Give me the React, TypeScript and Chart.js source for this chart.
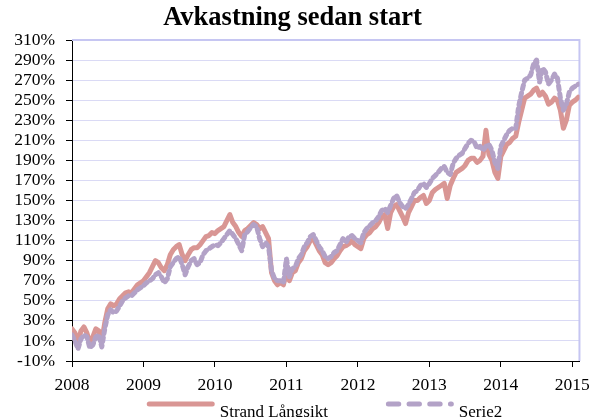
import React, { useEffect, useRef } from 'react';
import { Chart, registerables } from 'chart.js';

Chart.register(...registerables);

// ---------- data ----------
const TITLE = 'Avkastning sedan start';
const SERIES_NAMES = ['Strand Långsikt', 'Serie2'];
const START_YEAR = 2008;
const POINTS_PER_YEAR = 24; // half-month samples
const X_MIN = 2008;
const X_MAX = 2015.1;
const YEAR_TICKS = [2008, 2009, 2010, 2011, 2012, 2013, 2014, 2015];
const Y_TICKS = [-10, 10, 30, 50, 70, 90, 110, 130, 150, 170, 190, 210, 230, 250, 270, 290, 310];

const strand2008 = [22, 18, 8, 20, 24, 18, 8, 14, 22, 20, 10, 28, 42, 47, 45, 47, 52, 55, 58, 59, 58, 62, 66, 68];
const strand2009 = [70, 74, 78, 84, 90, 88, 83, 80, 86, 96, 101, 104, 106, 96, 90, 96, 101, 103, 103, 106, 110, 114, 115, 118];
const strand2010 = [117, 120, 122, 124, 130, 136, 128, 124, 118, 114, 120, 122, 125, 128, 126, 122, 124, 118, 112, 78, 70, 66, 68, 66];
const strand2011 = [78, 70, 78, 80, 88, 92, 100, 104, 110, 112, 106, 100, 96, 88, 86, 88, 92, 95, 100, 104, 105, 107, 110, 106];
const strand2012 = [104, 102, 112, 116, 118, 122, 124, 128, 134, 136, 122, 138, 144, 146, 140, 134, 127, 138, 144, 150, 150, 153, 155, 147];
const strand2013 = [150, 158, 161, 163, 165, 167, 152, 165, 172, 178, 180, 182, 185, 190, 192, 192, 188, 190, 194, 220, 196, 190, 178, 172];
const strand2014 = [194, 200, 206, 208, 212, 214, 228, 240, 252, 254, 256, 260, 262, 255, 258, 254, 246, 248, 252, 250, 240, 222, 230, 245];
const strand2015 = [248, 250, 253];

const serie2_2008 = [16, 10, 2, 12, 16, 14, 3, 6, 14, 16, 4, 22, 36, 41, 38, 40, 45, 50, 53, 55, 55, 58, 61, 63];
const serie2_2009 = [65, 68, 70, 72, 76, 78, 74, 68, 72, 84, 88, 92, 94, 86, 76, 84, 90, 92, 86, 88, 96, 100, 102, 104];
const serie2_2010 = [106, 105, 108, 112, 116, 120, 116, 112, 106, 100, 116, 119, 123, 126, 124, 112, 104, 108, 104, 80, 72, 70, 70, 68];
const serie2_2011 = [92, 74, 82, 84, 92, 96, 104, 108, 114, 116, 110, 104, 100, 94, 92, 94, 98, 100, 106, 112, 108, 114, 115, 112];
const serie2_2012 = [110, 108, 118, 122, 125, 128, 130, 134, 140, 142, 138, 145, 152, 155, 148, 144, 142, 146, 152, 158, 160, 165, 167, 163];
const serie2_2013 = [167, 172, 175, 178, 182, 184, 178, 176, 187, 192, 195, 197, 202, 207, 210, 209, 202, 204, 200, 204, 206, 200, 188, 182];
const serie2_2014 = [204, 210, 216, 220, 222, 222, 244, 258, 270, 272, 275, 286, 290, 268, 282, 278, 266, 270, 276, 272, 252, 240, 246, 258];
const serie2_2015 = [262, 264, 266];

const strandValues = [
  ...strand2008, ...strand2009, ...strand2010, ...strand2011,
  ...strand2012, ...strand2013, ...strand2014, ...strand2015,
];
const serie2Values = [
  ...serie2_2008, ...serie2_2009, ...serie2_2010, ...serie2_2011,
  ...serie2_2012, ...serie2_2013, ...serie2_2014, ...serie2_2015,
];
const dates = strandValues.map((_, i) => START_YEAR + i / POINTS_PER_YEAR);

// ---------- styles ----------
const FONT = '"Liberation Serif", "Times New Roman", serif';
const RED = '#d99694';
const PURPLE = '#b3a2c7';
const GRID = '#dadaf5';
const FRAME = '#c6c6f2';
const LEGEND_DASH: number[][] = [[], [10.4, 10.3]];

const framePlugin = {
  id: 'plotFrame',
  beforeDatasetsDraw(chart: any) {
    const { ctx, chartArea } = chart;
    ctx.save();
    ctx.strokeStyle = FRAME;
    ctx.lineWidth = 2;
    ctx.beginPath();
    ctx.moveTo(chartArea.left, chartArea.top);
    ctx.lineTo(chartArea.right, chartArea.top);
    ctx.lineTo(chartArea.right, chartArea.bottom);
    ctx.stroke();
    ctx.restore();
  },
};

const legendPlugin = {
  id: 'bottomLegend',
  afterDraw(chart: any) {
    const ctx = chart.ctx;
    const CAP = 2.5;
    const SAMPLE = 63;
    const TEXT_GAP = 5;
    const ITEM_GAP = 58;
    const LINE_Y = 404;
    const TEXT_Y = 416.5;
    const CENTER = 324.5;
    ctx.save();
    ctx.font = `17px ${FONT}`;
    const items = SERIES_NAMES.map((label, i) => ({
      label,
      color: chart.data.datasets[i].borderColor,
      dash: LEGEND_DASH[i],
    }));
    const widths = items.map((it) => CAP * 2 + SAMPLE + TEXT_GAP + ctx.measureText(it.label).width);
    const total = widths.reduce((a, b) => a + b, 0) + ITEM_GAP * (items.length - 1);
    let x = CENTER - total / 2;
    items.forEach((it, i) => {
      ctx.beginPath();
      ctx.setLineDash(it.dash);
      ctx.lineCap = 'round';
      ctx.lineWidth = 5;
      ctx.strokeStyle = it.color;
      ctx.moveTo(x + CAP, LINE_Y);
      ctx.lineTo(x + CAP + SAMPLE, LINE_Y);
      ctx.stroke();
      ctx.setLineDash([]);
      ctx.fillStyle = '#000';
      ctx.textAlign = 'left';
      ctx.textBaseline = 'alphabetic';
      ctx.fillText(it.label, x + CAP * 2 + SAMPLE + TEXT_GAP, TEXT_Y);
      x += widths[i] + ITEM_GAP;
    });
    ctx.restore();
  },
};

export default function App() {
  const canvasRef = useRef<HTMLCanvasElement | null>(null);

  useEffect(() => {
    if (!canvasRef.current) return;
    const tickFont = { family: FONT, size: 17.5 };
    const chart = new Chart(canvasRef.current, {
      type: 'line',
      data: {
        datasets: [
          {
            label: SERIES_NAMES[0],
            data: dates.map((x, i) => ({ x, y: strandValues[i] })),
            borderColor: RED,
            backgroundColor: RED,
            borderWidth: 5,
            borderCapStyle: 'round',
            borderJoinStyle: 'round',
            pointRadius: 0,
            tension: 0,
            order: 1,
          },
          {
            label: SERIES_NAMES[1],
            data: dates.map((x, i) => ({ x, y: serie2Values[i] })),
            borderColor: PURPLE,
            backgroundColor: PURPLE,
            borderWidth: 5,
            borderDash: [4, 4],
            borderCapStyle: 'round',
            borderJoinStyle: 'round',
            pointRadius: 0,
            tension: 0,
            order: 0,
          },
        ],
      },
      options: {
        responsive: false,
        animation: false,
        devicePixelRatio: 1,
        layout: { padding: { top: 0, right: 13, bottom: 22, left: 0 } },
        plugins: {
          legend: { display: false },
          tooltip: { enabled: false },
          title: {
            display: true,
            text: TITLE,
            color: '#000',
            font: { family: FONT, size: 26.5, weight: 'bold' },
            padding: { top: 2, bottom: 6.2 },
          },
        },
        scales: {
          x: {
            type: 'linear',
            min: X_MIN,
            max: X_MAX,
            afterBuildTicks: (s: any) => {
              s.ticks = YEAR_TICKS.map((value) => ({ value }));
            },
            afterFit: (s: any) => {
              s.height = 34;
            },
            ticks: {
              autoSkip: false,
              maxRotation: 0,
              color: '#000',
              font: tickFont,
              padding: 8,
              callback: (v: any) => String(Math.round(Number(v))),
            },
            grid: {
              drawOnChartArea: false,
              drawTicks: true,
              tickLength: 6,
              tickColor: '#000',
            },
            border: { display: true, color: '#000', width: 1 },
          },
          y: {
            type: 'linear',
            min: Y_TICKS[0],
            max: Y_TICKS[Y_TICKS.length - 1],
            afterBuildTicks: (s: any) => {
              s.ticks = Y_TICKS.map((value) => ({ value }));
            },
            afterFit: (s: any) => {
              s.width = 72;
            },
            ticks: {
              autoSkip: false,
              color: '#000',
              font: tickFont,
              padding: 11,
              callback: (v: any) => `${v}%`,
            },
            grid: {
              color: GRID,
              lineWidth: 1,
              drawTicks: true,
              tickLength: 6,
              tickColor: '#000',
            },
            border: { display: true, color: '#000', width: 1 },
          },
        },
      },
      plugins: [framePlugin, legendPlugin],
    } as any);
    return () => chart.destroy();
  }, []);

  return (
    <div style={{ position: 'absolute', left: 0, top: 0, width: 598, height: 417, background: '#fff' }}>
      <canvas ref={canvasRef} width={598} height={417} style={{ display: 'block' }} />
    </div>
  );
}
